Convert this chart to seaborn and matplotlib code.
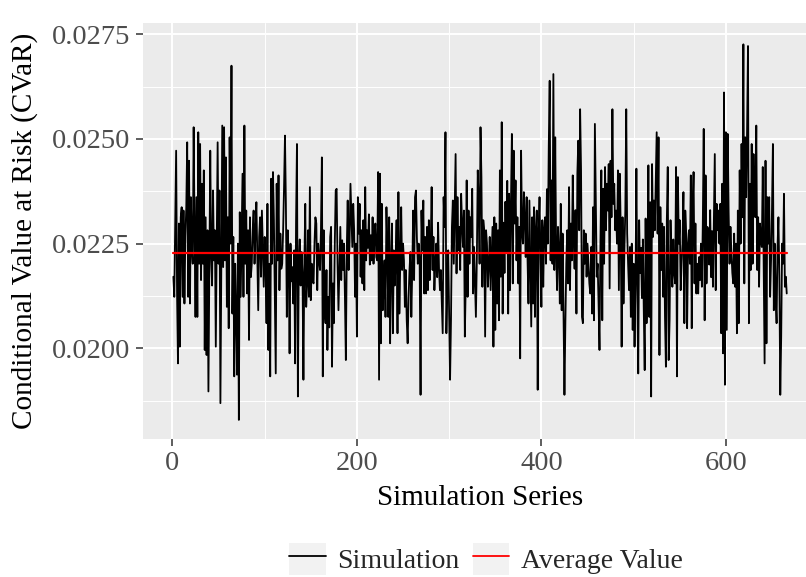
import numpy as np
import pandas as pd
import matplotlib
matplotlib.use("Agg")
import matplotlib.pyplot as plt
import seaborn as sns
from matplotlib.lines import Line2D
from matplotlib.patches import Patch
from matplotlib.legend_handler import HandlerTuple

# CVaR of each simulation run, in units of 1e-5, in run order
seg_a = [2171, 2123, 2298, 2472, 2131, 1964, 2298, 2004, 2313, 2337,
         2123, 2329, 2107, 2266, 2337, 2492, 2123, 2448, 2107, 2361,
         2240, 2202, 2528, 2282, 2075, 2361, 2075, 2516, 2202, 2488,
         2163, 2393, 2202, 2425, 1996, 2313, 1984, 2282, 1897, 2202,
         2472, 2218, 2150, 2377, 2210, 2282, 2004, 2250, 2492, 2202,
         2377, 1869, 2202, 2532, 2194, 2528, 2210, 2456, 2099, 2313,
         2048, 2504, 2250, 2675, 2083, 2266, 1933]
seg_b = [2202, 2083, 1937, 2250, 1829, 2325, 2123, 2266, 2417, 2123,
         2532, 2202, 2329, 2131, 2282, 2020, 2313, 2170, 2202, 2282,
         2329, 2202, 2282, 2349, 2218, 2091, 2266, 2313, 2171, 2329,
         2240, 2147, 2266, 2202, 2060, 2345, 1996, 2202, 1933, 2405,
         2202, 2421, 2306, 2123, 1940, 2393, 2210, 2413, 2139, 2274,
         2190, 2202, 2282, 2385, 2508, 2345, 2075, 2282, 2218, 1988,
         2250, 2160, 2194, 2107, 2234, 1964, 2300, 2488, 1885, 2210,
         2260, 2150, 2230, 2180]
seg_c = [1925, 2202, 2345, 2099, 2155, 2282, 2123, 2385, 2115, 2202,
         2163, 2155, 2250, 2313, 2298, 2139, 2250, 2210, 2187, 2282,
         2456, 1933, 2282, 2091, 2060, 2187, 1996, 2123, 2050, 2266,
         2290, 1956, 2155, 2060, 2250, 2377, 2381, 2202, 2091, 2194,
         2290, 2163, 2258, 2187, 2250, 2123, 1972, 2234, 2353, 2187,
         2250, 2393, 2313, 2242, 2345, 2282, 2123, 2250, 2028, 2361,
         2274, 2345, 2171, 2282, 2155, 2306, 2139, 2385, 2210, 2282,
         2240, 2320, 2200, 2270]
seg_d = [2210, 2313, 2202, 2266, 2298, 2218, 2210, 2421, 1925, 2417,
         2012, 2345, 2091, 2155, 2210, 2075, 2337, 2234, 2075, 2313,
         2012, 2202, 2298, 2036, 2234, 2150, 2210, 2306, 2036, 2373,
         2083, 2202, 2337, 2187, 2250, 2210, 2099, 2187, 2067, 2012,
         2120, 2187, 2230, 2075, 2187, 2329, 2163, 2361, 2377, 2266,
         2202, 2250, 2210, 1889, 2329, 2234, 2353, 2131, 2266, 2131,
         2290, 2139, 2306, 2163, 2242, 2385, 2187, 2266, 2139, 2202,
         2250, 2170, 2300, 2190]
seg_e = [2139, 2187, 2115, 2036, 2361, 2290, 2516, 2036, 2155, 2234,
         2075, 1925, 2067, 2290, 2353, 2202, 2329, 2464, 2179, 2361,
         2234, 2290, 2187, 2369, 2298, 2242, 2329, 2028, 2155, 2401,
         2123, 2329, 2202, 2313, 2266, 2381, 2131, 2242, 2155, 2075,
         2210, 2425, 2353, 2202, 2528, 2409, 2147, 2306, 2282, 2028,
         2282, 2250, 2147, 2202, 2266, 2139, 2218, 2290, 2004, 2313,
         2044, 2298, 2107, 2282, 2067, 2425, 2171, 2540, 2083, 2300,
         2180, 2350, 2230, 2400]
seg_f = [2083, 2369, 2139, 2345, 2512, 2155, 2472, 2298, 2401, 2210,
         2313, 2155, 2290, 1976, 2472, 2282, 2250, 2373, 2306, 2218,
         2361, 2210, 2107, 2353, 2202, 2052, 2313, 2107, 2337, 2075,
         2282, 2329, 1901, 2282, 2361, 2218, 2099, 2306, 2147, 2282,
         2313, 2202, 2380, 2250, 2484, 2639, 2210, 2401, 2202, 2655,
         2187, 2504, 2234, 2139, 2290, 2234, 2107, 2345, 2091, 2274,
         2083, 1889, 2060, 2202, 2282, 2155, 2385, 2139, 2298, 2210,
         2413, 2260, 2190, 2330]
seg_g = [2083, 2417, 2496, 2282, 2571, 2425, 2075, 2060, 2282, 2202,
         2274, 2171, 2250, 2202, 2155, 2131, 2242, 2083, 2337, 2067,
         2536, 2353, 2171, 2202, 2107, 1996, 2250, 2425, 2067, 2381,
         2202, 2433, 2282, 2393, 2329, 2440, 2143, 2448, 2313, 2571,
         2345, 2393, 2282, 2329, 2250, 2425, 2139, 2417, 2290, 2004,
         2313, 2107, 2234, 2329, 2571, 2274, 2202, 2139, 2242, 2075,
         2250, 2044, 2202, 2004, 2155, 2429, 2139, 1940, 2306, 2180,
         2240, 2120, 2260, 2090]
seg_h = [1948, 2310, 2060, 2155, 2437, 2075, 2349, 1885, 2440, 2266,
         2353, 2282, 2393, 2516, 2274, 2504, 1984, 2337, 2187, 2298,
         2123, 2290, 2075, 1956, 2306, 2433, 1972, 2067, 2306, 2202,
         2147, 2260, 2179, 2155, 2433, 1933, 2409, 2250, 2306, 2139,
         2202, 2250, 2373, 2060, 2329, 2274, 2048, 2250, 2282, 2202,
         2413, 2048, 2329, 2421, 2155, 2298, 2131, 2202, 2131, 2218,
         2163, 2250, 2147, 2298, 2524, 2067, 2413, 2155, 2290, 2282,
         2200, 2330, 2170, 2280]
seg_i = [2147, 2313, 2464, 2139, 2345, 2282, 2329, 2250, 2345, 2036,
         2393, 1988, 2611, 1913, 2516, 2044, 2512, 2329, 2202, 2290,
         2230, 2180, 2155, 2274, 2147, 2250, 2036, 2329, 2060, 2425,
         2250, 2488, 2313, 2726, 2155, 2504, 2361, 2520, 2722, 2060,
         2393, 2187, 2488, 2202, 2464, 2337, 2313, 2532, 2187, 2313,
         2147, 2298, 2260, 2242, 2433, 2187, 1964, 2448, 2012, 2361,
         2250, 2361, 2123, 2210, 2329, 2488, 2091, 2250, 2123, 2060,
         2242, 2313, 2171, 1889, 2028, 2250, 2202, 2369, 2147, 2171,
         2131]

# Reported average CVaR across all runs
avg_value = 0.02227

series_labels = ["Simulation", "Average Value"]
series_colors = ["black", "red"]
x_ticks = [0, 200, 400, 600]
x_minor = [100, 300, 500, 700]
y_ticks = [0.0200, 0.0225, 0.0250, 0.0275]
y_minor = [0.01875, 0.02125, 0.02375, 0.02625]
y_limits = (0.017834, 0.027777)

cvar = np.array(seg_a + seg_b + seg_c + seg_d + seg_e + seg_f + seg_g + seg_h + seg_i) * 1e-5
runs = np.arange(1, len(cvar) + 1)

sim_df = pd.DataFrame({"run": runs, "cvar": cvar})
avg_df = pd.DataFrame({"run": [runs[0], runs[-1]], "cvar": [avg_value, avg_value]})

sns.set_theme(style="darkgrid", rc={
    "axes.facecolor": "#EBEBEB",
    "figure.facecolor": "white",
    "grid.color": "white",
})
plt.rcParams["font.family"] = ["Liberation Serif", "DejaVu Serif"]

W, H = 806, 577
fig = plt.figure(figsize=(W / 100, H / 100), dpi=100)

# ggplot-style 5% expansion of the x range
span = runs[-1] - runs[0]
x_lo = runs[0] - 0.05 * span
x_hi = runs[-1] + 0.05 * span
px_per_run = 0.9233
left_px, top_px, bottom_px = 142.7, 22.7, 439.0
ax = fig.add_axes([left_px / W, 1 - bottom_px / H,
                   (x_hi - x_lo) * px_per_run / W, (bottom_px - top_px) / H])

sns.lineplot(data=sim_df, x="run", y="cvar", color=series_colors[0],
             linewidth=1.3, estimator=None, ax=ax)
sns.lineplot(data=avg_df, x="run", y="cvar", color=series_colors[1],
             linewidth=1.6, estimator=None, ax=ax)

ax.set_xlim(x_lo, x_hi)
ax.set_ylim(*y_limits)
ax.set_xticks(x_ticks)
ax.set_xticks(x_minor, minor=True)
ax.set_yticks(y_ticks)
ax.set_yticks(y_minor, minor=True)
ax.set_xticklabels([str(t) for t in x_ticks])
ax.set_yticklabels([f"{t:.4f}" for t in y_ticks])

ax.grid(which="major", color="white", linewidth=1.4)
ax.grid(which="minor", color="white", linewidth=0.7)
ax.set_axisbelow(True)
for sp in ax.spines.values():
    sp.set_visible(False)

ax.tick_params(which="major", length=5, width=1.1, color="#333333",
               labelcolor="#4D4D4D", labelsize=20.5, pad=4,
               bottom=True, left=True)
ax.tick_params(which="minor", length=0)

ax.set_xlabel("Simulation Series", fontsize=21, color="black", labelpad=6)
ax.set_ylabel("Conditional Value at Risk (CVaR)", fontsize=21, color="black",
              labelpad=10)

handles = [
    (Patch(facecolor="#F2F2F2", edgecolor="none"),
     Line2D([], [], color=series_colors[0], linewidth=1.3)),
    (Patch(facecolor="#F2F2F2", edgecolor="none"),
     Line2D([], [], color=series_colors[1], linewidth=1.3)),
]
fig.legend(handles, series_labels, loc="center",
           bbox_to_anchor=(486 / W, 1 - 559 / H), ncol=2, frameon=False,
           fontsize=20, handlelength=1.3, handleheight=1.4,
           handletextpad=0.43, columnspacing=0.46, borderpad=0.2,
           handler_map={tuple: HandlerTuple(ndivide=1, pad=0)})

fig.savefig("out.png", dpi=100)
